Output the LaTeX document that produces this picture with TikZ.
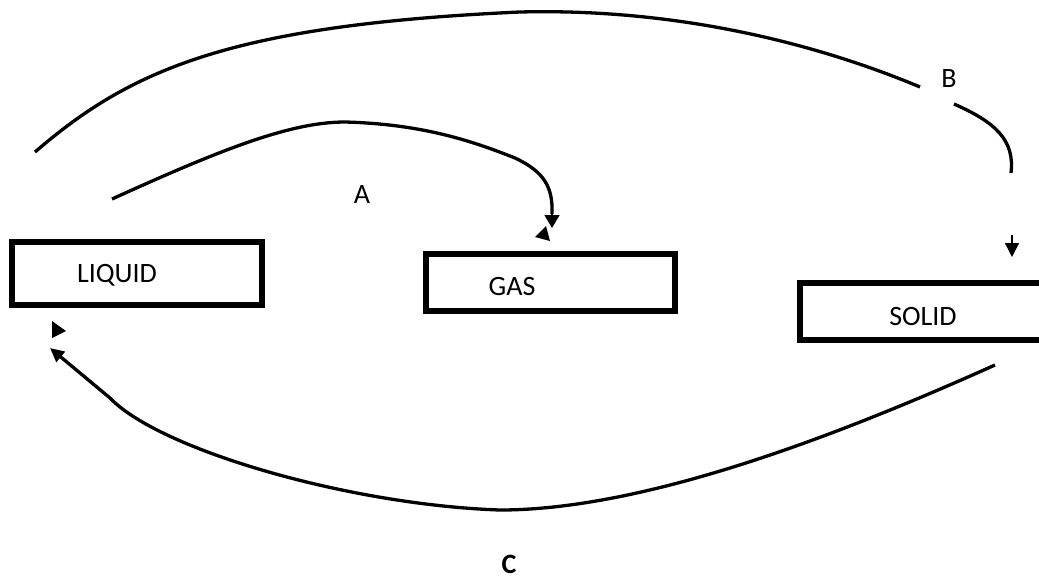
\documentclass[tikz,border=0pt]{standalone}
\usepackage{fontspec}
\setmainfont{Carlito}
\usetikzlibrary{arrows.meta}
\begin{document}
\begin{tikzpicture}[x=1pt,y=-1pt,
  box/.style={draw, line width=6pt, inner sep=0pt, fill=none},
  lbl/.style={font=\fontsize{28}{33}\selectfont, inner sep=0pt, anchor=base},
  curve/.style={line width=3.3pt},
  headgas/.style={-{Triangle[length=13pt,width=15pt]}},
  headliq/.style={-{Triangle[length=14pt,width=13pt]}},
  headsol/.style={-{Triangle[length=14pt,width=14pt]}}]
\useasboundingbox (0,0) rectangle (1039,579);

% boxes
\node[box, minimum width=250pt, minimum height=63pt] (liquid) at (137,273.5) {};
\node[box, minimum width=249pt, minimum height=57pt] (gas) at (550.5,282.5) {};
\node[box, minimum width=245pt, minimum height=57pt] (solid) at (922.5,311.5) {};

% texts
\node[lbl] (liqtxt) at (117,282) {LIQUID};
\node[lbl] (gastxt) at (512,295) {GAS};
\node[lbl] (soltxt) at (923,325) {SOLID};
\node[lbl] (la) at (362,203) {A};
\node[lbl] (lb) at (949,87) {B};
\node[lbl, font=\fontsize{28}{33}\selectfont\bfseries] (lc) at (509,573) {C};

% coordinates
\coordinate (t0) at (35,152);
\coordinate (t1) at (920,87);
\coordinate (b0) at (954,104);
\coordinate (b1) at (1011,173);
\coordinate (s0) at (1012,235);
\coordinate (s1) at (1012,257);
\coordinate (a0) at (112,199);
\coordinate (a1) at (552,228);
\coordinate (c0) at (995,365);
\coordinate (c1) at (50,348);

% top curve (B)
\draw[curve] (t0) .. controls (130,70) and (230,25) .. (520,12)
  .. controls (680,8) and (820,45) .. (t1);
\draw[curve] (b0) .. controls (995,122) and (1015,140) .. (b1);
\draw[line width=1.5pt, headsol] (s0) -- (s1);

% A curve
\draw[curve] (a0) .. controls (220,150) and (290,122) .. (345,122)
  .. controls (420,124) and (470,140) .. (515,158)
  .. controls (545,172) and (553,188) .. (552,214);
\draw[line width=1.5pt, headgas] (552,205) -- (a1);
\fill (535,237) -- (546,226) -- (550,241) -- cycle;

% C curve
\draw[curve, headliq] (c0) .. controls (850,430) and (650,510) .. (500,510)
  .. controls (350,505) and (160,450) .. (110,398) -- (c1);
\fill (52,321) -- (52,338) -- (66,331) -- cycle;
\end{tikzpicture}
\end{document}
